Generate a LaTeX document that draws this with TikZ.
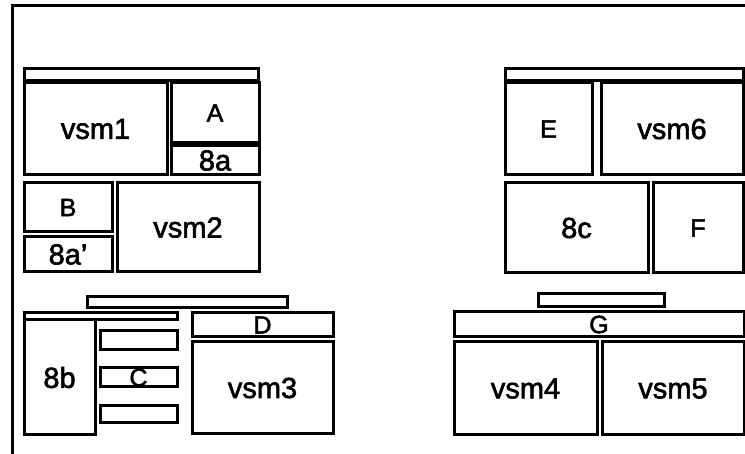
\documentclass[tikz,border=0pt]{standalone}
\usepackage{fontspec}
\setmainfont[FakeBold=2]{Liberation Sans}
\begin{document}
\begin{tikzpicture}[x=1pt,y=-1pt,
  box/.style={draw, line width=3pt, inner sep=0pt, outer sep=0pt, anchor=north west},
  big/.style={font=\fontsize{29}{29}\selectfont},
  small/.style={font=\fontsize{25}{25}\selectfont}]
\useasboundingbox (0,0) rectangle (745,454);
\fill[white] (0,0) rectangle (745,454);
% frame (cut off on the right and bottom)
\draw[line width=3pt] (12,454) -- (12,6) -- (745,6);
% top left group
\node[box, minimum width=234, minimum height=12] (topL) at (24,69) {};
\node[box, minimum width=143, minimum height=92, big] (vsm1) at (24,83) {vsm1};
\node[box, minimum width=88, minimum height=60, small] (A) at (171,83) {A};
\node[box, minimum width=88, minimum height=29, big] (a8) at (171,146) {8a};
\node[box, minimum width=88, minimum height=49, small] (B) at (24,183) {B};
\node[box, minimum width=88, minimum height=35, big] (a8p) at (24,237) {8a'};
\node[box, minimum width=142, minimum height=89, big] (vsm2) at (117,183) {vsm2};
% top right group
\node[box, minimum width=238, minimum height=12] (topR) at (505,69) {};
\node[box, minimum width=87, minimum height=92, small] (E) at (505,83) {E};
\node[box, minimum width=142, minimum height=92, big] (vsm6) at (601,83) {vsm6};
\node[box, minimum width=143, minimum height=90, big] (c8) at (505,183) {8c};
\node[box, minimum width=90, minimum height=90, small] (F) at (653,183) {F};
% bottom left group
\node[box, minimum width=200, minimum height=11] (barL) at (87,297) {};
\node[box, minimum width=153, minimum height=7] (strip) at (24,313) {};
\node[box, minimum width=71, minimum height=115, big] (b8) at (24,320) {8b};
\node[box, minimum width=77, minimum height=19] (C1) at (100,331) {};
\node[box, minimum width=77, minimum height=19, small] (C) at (100,368) {C};
\node[box, minimum width=77, minimum height=17] (C3) at (100,406) {};
\node[box, minimum width=141, minimum height=24, small] (D) at (192,313) {D};
\node[box, minimum width=141, minimum height=92, big] (vsm3) at (192,342) {vsm3};
% bottom right group
\node[box, minimum width=126, minimum height=13] (barR) at (538,294) {};
\node[box, minimum width=290, minimum height=25, small] (G) at (454,312) {G};
\node[box, minimum width=143, minimum height=93, big] (vsm4) at (454,342) {vsm4};
\node[box, minimum width=142, minimum height=93, big] (vsm5) at (602,342) {vsm5};
\end{tikzpicture}
\end{document}
